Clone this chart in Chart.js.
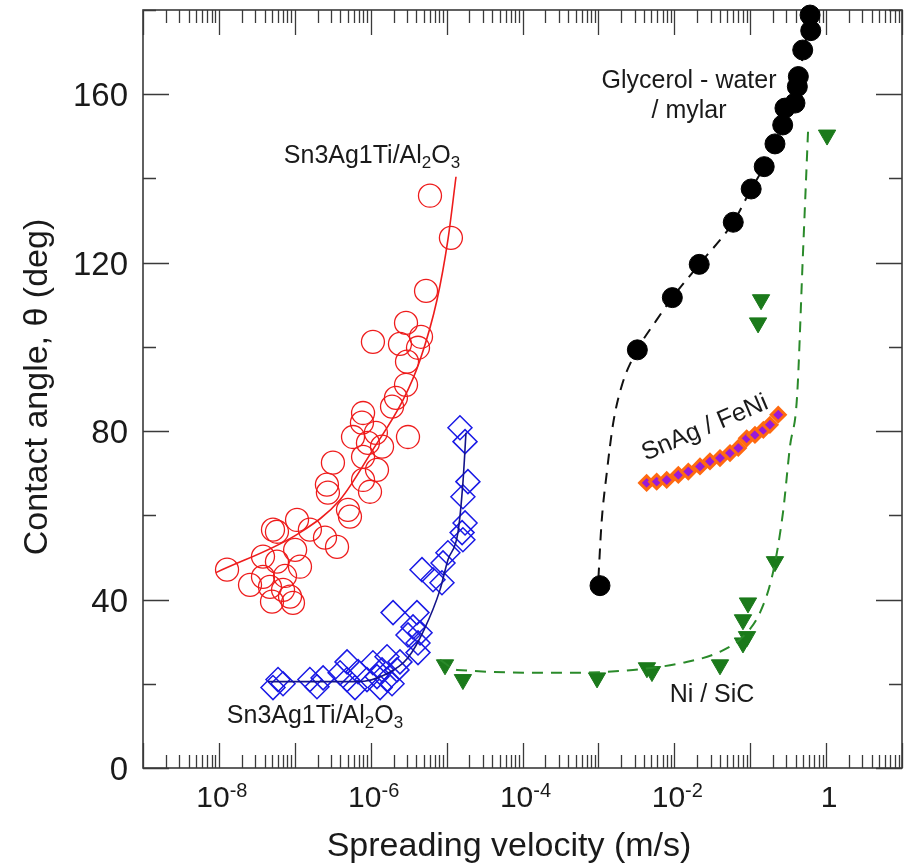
<!DOCTYPE html>
<html>
<head>
<meta charset="utf-8">
<script src="https://cdn.jsdelivr.net/npm/chart.js@4.4.1/dist/chart.umd.min.js"></script>
<style>
  body { margin: 0; background: #fff; }
  canvas { display: block; }
</style>
</head>
<body>
<canvas id="angulo-contato" width="907" height="864"></canvas>
<script>
// Sn3Ag1Ti/Al2O3 (red open circles)
const redX = [6.04e-6, 1.14e-5, 5.36e-6, 2.92e-6, 1.07e-6, 2.43e-6, 4.60e-6, 4.20e-6, 3.01e-6, 2.92e-6,
    2.15e-6, 1.91e-6, 7.67e-7, 3.10e-6, 5.85e-7, 1.17e-6, 9.20e-7, 1.41e-6, 7.93e-7, 1.21e-6,
    3.18e-7, 2.65e-7, 2.73e-7, 7.93e-7, 9.79e-7, 5.02e-7, 5.33e-7, 5.16e-8, 1.07e-7, 1.58e-7,
    2.50e-7, 3.60e-7, 1.01e-7, 3.81e-8, 5.82e-8, 1.17e-7, 1.28e-8, 2.57e-8, 3.81e-8, 4.71e-8,
    7.00e-8, 8.65e-8, 5.01e-8, 9.46e-8, 7.43e-8, 5.82e-8, 7.93e-7];
const redY = [135.9, 125.9, 113.3, 105.7, 101.2, 100.7, 102.4, 99.8, 96.5, 91.0,
    87.9, 85.8, 82.0, 78.6, 78.6, 79.6, 77.2, 76.3, 73.9, 70.8,
    72.5, 67.3, 65.4, 68.4, 65.6, 61.3, 59.7, 56.6, 58.9, 56.6,
    54.7, 52.5, 51.8, 50.2, 49.0, 47.8, 47.1, 43.5, 45.4, 43.0,
    42.3, 40.7, 39.5, 39.2, 45.6, 56.1, 84.3];
const redFitX = [9.16e-9, 1.17e-7, 3.95e-7, 1.07e-6, 2.67e-6, 4.47e-6, 7.48e-6, 1.04e-5, 1.33e-5];
const redFitY = [46.4, 55.9, 63.7, 75.6, 87.4, 96.9, 111.2, 125.4, 140.4];

// Sn3Ag1Ti/Al2O3 (blue open diamonds)
const blueX = [1.50e-5, 1.75e-5, 1.91e-5, 1.64e-5, 1.75e-5, 1.60e-5, 1.64e-5, 1.04e-5, 8.97e-6, 4.74e-6,
    6.62e-6, 8.69e-6, 1.97e-6, 4.07e-6, 3.61e-6, 4.47e-6, 3.10e-6, 4.20e-6, 4.20e-6, 2.43e-6,
    1.64e-6, 2.22e-6, 1.07e-6, 1.41e-6, 1.21e-6, 8.93e-7, 1.64e-6, 1.33e-6, 1.91e-6, 4.88e-7,
    3.95e-7, 4.88e-7, 6.81e-7, 2.36e-7, 1.58e-7, 1.96e-7, 6.01e-8, 5.16e-8, 7.00e-8, 6.21e-7];
const blueY = [80.8, 77.5, 68.0, 64.4, 58.2, 55.9, 54.2, 51.1, 48.7, 47.1,
    44.7, 44.0, 36.9, 36.9, 33.5, 32.1, 31.6, 29.7, 27.4, 25.2,
    26.4, 23.3, 25.0, 23.3, 21.7, 21.0, 21.0, 19.1, 20.0, 25.2,
    22.6, 21.0, 22.9, 21.4, 21.0, 19.3, 21.0, 19.1, 20.0, 19.1];
const blueFitX = [4.44e-8, 6.61e-7, 1.64e-6, 3.10e-6, 5.04e-6, 8.18e-6, 1.04e-5, 1.41e-5, 1.64e-5, 1.80e-5];
const blueFitY = [20.5, 20.5, 22.4, 26.2, 32.8, 42.3, 49.4, 55.9, 67.7, 79.6];

// Glycerol - water / mylar
const glyX = [0.614, 0.627, 0.492, 0.431, 0.418, 0.389, 0.287, 0.268, 0.212, 0.153,
    0.103, 0.0598, 0.0213, 0.00942, 0.00326, 0.00105];
const glyY = [178.8, 175.1, 170.5, 164.2, 161.8, 157.9, 156.7, 152.7, 148.2, 142.8,
    137.5, 129.6, 119.6, 111.7, 99.3, 43.3];
const glyFitX = [1.0e-3, 1.10e-3, 1.29e-3, 1.57e-3, 2.05e-3, 3.26e-3, 5.86e-3, 9.42e-3, 0.0213,
    0.0598, 0.103, 0.153, 0.212, 0.268, 0.366, 0.431, 0.497, 0.614];
const glyFitY = [45, 58.2, 70.1, 82.0, 91.0, 99.3, 106.4, 111.7, 119.6,
    129.6, 137.5, 142.8, 148.2, 152.7, 159.4, 164.2, 169.3, 178.8];

// Ni / SiC
const niX = [9.53e-6, 1.64e-5, 9.60e-4, 4.36e-3, 5.08e-3, 0.0400, 0.0803, 0.0908, 0.0803, 0.0935,
    0.212, 1.03, 0.139, 0.127];
const niY = [24.5, 21.0, 21.4, 23.8, 22.9, 24.5, 29.7, 31.2, 35.2, 39.2,
    49.0, 150.3, 111.2, 105.7];
const niFitX = [8.18e-6, 1.37e-5, 3.85e-4, 2.86e-3, 0.0130, 0.0400, 0.0803, 0.1346, 0.1995, 0.270,
    0.334, 0.414, 0.492, 0.578];
const niFitY = [25.7, 23.3, 22.6, 23.3, 25.0, 27.6, 31.2, 36.9, 46.4, 60.6,
    76.3, 88.1, 120.7, 151.1];

// SnAg / FeNi
const snagX = [4.32e-3, 5.86e-3, 7.94e-3, 0.0113, 0.0153, 0.0218, 0.0295, 0.0400, 0.0542, 0.0697,
    0.0899, 0.1156, 0.149, 0.182, 0.234];
const snagY = [67.7, 68.0, 68.4, 69.6, 70.4, 71.6, 72.8, 73.6, 74.8, 76.0,
    78.3, 79.1, 80.3, 81.5, 83.9];

// eixos
const yTickLabels = [0, 40, 80, 120, 160];
const xTickExps = [-8, -6, -4, -2, 0];

const FONTE = '"Liberation Sans", Arial, sans-serif';
const TEXTO = '#1a1a1a';

function pts(xs, ys) {
    return xs.map((v, i) => ({x: v, y: ys[i]}));
}

// desenha texto com sub/sobrescrito
function richText(ctx, parts, x, y, size, align) {
    const widths = parts.map(p => {
        ctx.font = (p[1] === 'n' ? size : Math.round(size * 0.66)) + 'px ' + FONTE;
        return ctx.measureText(p[0]).width;
    });
    const total = widths.reduce((a, b) => a + b, 0);
    let cx = align === 'center' ? x - total / 2 : (align === 'right' ? x - total : x);
    ctx.textAlign = 'left';
    ctx.textBaseline = 'alphabetic';
    parts.forEach((p, i) => {
        ctx.font = (p[1] === 'n' ? size : Math.round(size * 0.66)) + 'px ' + FONTE;
        let dy = 0;
        if (p[1] === 'sub') dy = size * 0.2;
        if (p[1] === 'sup') dy = -size * 0.33;
        ctx.fillText(p[0], cx, y + dy);
        cx += widths[i];
    });
}

const molduraPlugin = {
    id: 'moldura',
    beforeDatasetsDraw(chart) {
        const ctx = chart.ctx;
        const a = chart.chartArea;
        const xs = chart.scales.x, ys = chart.scales.y;
        ctx.save();
        ctx.strokeStyle = '#3a3a3a';
        ctx.lineWidth = 1.3;
        ctx.beginPath();
        // x: decadas e menores
        for (let d = -9; d <= 1; d++) {
            const px = Math.round(xs.getPixelForValue(Math.pow(10, d))) + 0.5;
            ctx.moveTo(px, a.bottom); ctx.lineTo(px, a.bottom - 25);
            ctx.moveTo(px, a.top); ctx.lineTo(px, a.top + 25);
            if (d < 1) {
                for (let m = 2; m <= 9; m++) {
                    const pm = Math.round(xs.getPixelForValue(m * Math.pow(10, d))) + 0.5;
                    ctx.moveTo(pm, a.bottom); ctx.lineTo(pm, a.bottom - 13);
                    ctx.moveTo(pm, a.top); ctx.lineTo(pm, a.top + 13);
                }
            }
        }
        // y
        for (let v = 0; v <= 180; v += 20) {
            const py = Math.round(ys.getPixelForValue(v)) + 0.5;
            const len = v % 40 === 0 ? 26 : 13;
            ctx.moveTo(a.left, py); ctx.lineTo(a.left + len, py);
            ctx.moveTo(a.right, py); ctx.lineTo(a.right - len, py);
        }
        ctx.stroke();
        ctx.lineWidth = 1.6;
        ctx.strokeRect(a.left, a.top, a.right - a.left, a.bottom - a.top);
        ctx.restore();
    },
    afterDatasetsDraw(chart) {
        const ctx = chart.ctx;
        const a = chart.chartArea;
        const xs = chart.scales.x, ys = chart.scales.y;
        ctx.save();
        ctx.fillStyle = TEXTO;

        // rotulos y
        ctx.font = '33px ' + FONTE;
        ctx.textAlign = 'right';
        ctx.textBaseline = 'alphabetic';
        yTickLabels.forEach(v => {
            ctx.fillText(String(v), a.left - 15, ys.getPixelForValue(v) + 12);
        });

        // rotulos x (10^n)
        xTickExps.forEach(e => {
            const px = xs.getPixelForValue(Math.pow(10, e)) + 3;
            if (e === 0) {
                richText(ctx, [['1', 'n']], px, a.bottom + 39, 30, 'center');
            } else {
                richText(ctx, [['10', 'n'], [String(e), 'sup']], px, a.bottom + 39, 30, 'center');
            }
        });

        // titulos
        ctx.font = '34px ' + FONTE;
        ctx.textAlign = 'center';
        ctx.fillText('Spreading velocity (m/s)', 509, 856);
        ctx.save();
        ctx.translate(47, 387);
        ctx.rotate(-Math.PI / 2);
        ctx.fillText('Contact angle, \u03b8 (deg)', 0, 0);
        ctx.restore();

        // anotacoes
        const liga = [['Sn3Ag1Ti/Al', 'n'], ['2', 'sub'], ['O', 'n'], ['3', 'sub']];
        richText(ctx, liga, 372, 163, 25, 'center');
        richText(ctx, liga, 315, 723, 25, 'center');
        ctx.font = '25px ' + FONTE;
        ctx.textAlign = 'center';
        ctx.fillText('Glycerol - water', 689, 88);
        ctx.fillText('/ mylar', 689, 118);
        ctx.fillText('Ni / SiC', 712, 702);
        ctx.save();
        ctx.translate(705, 428);
        ctx.rotate(-23 * Math.PI / 180);
        ctx.textBaseline = 'middle';
        ctx.fillText('SnAg / FeNi', 0, 0);
        ctx.restore();

        ctx.restore();
    }
};

const ctx = document.getElementById('angulo-contato').getContext('2d');
const chartAngulo = new Chart(ctx, {
    type: 'scatter',
    data: {
        datasets: [{
            label: 'SnAg / FeNi',
            data: pts(snagX, snagY),
            pointStyle: 'rectRot',
            pointRadius: 7,
            backgroundColor: '#9a1ad6',
            borderColor: '#ff6a10',
            borderWidth: 3,
            order: -1
        }, {
            label: 'Sn3Ag1Ti fit red',
            data: pts(redFitX, redFitY),
            showLine: true,
            pointRadius: 0,
            borderColor: '#ee1c1c',
            borderWidth: 1.6,
            cubicInterpolationMode: 'monotone',
            order: 0
        }, {
            label: 'Sn3Ag1Ti fit blue',
            data: pts(blueFitX, blueFitY),
            showLine: true,
            pointRadius: 0,
            borderColor: '#14148a',
            borderWidth: 1.6,
            cubicInterpolationMode: 'monotone',
            order: 0
        }, {
            label: 'Glycerol fit',
            data: pts(glyFitX, glyFitY),
            showLine: true,
            pointRadius: 0,
            borderColor: '#111',
            borderWidth: 2,
            borderDash: [11, 8],
            cubicInterpolationMode: 'monotone',
            order: 2
        }, {
            label: 'Ni fit',
            data: pts(niFitX, niFitY),
            showLine: true,
            pointRadius: 0,
            borderColor: '#2a8a2a',
            borderWidth: 2,
            borderDash: [11, 8],
            cubicInterpolationMode: 'monotone',
            order: 0
        }, {
            label: 'Sn3Ag1Ti/Al2O3 red',
            data: pts(redX, redY),
            pointStyle: 'circle',
            pointRadius: 11.5,
            backgroundColor: 'rgba(0,0,0,0)',
            borderColor: '#ee1c1c',
            borderWidth: 1.3,
            order: 1
        }, {
            label: 'Sn3Ag1Ti/Al2O3 blue',
            data: pts(blueX, blueY),
            pointStyle: 'rectRot',
            pointRadius: 12,
            backgroundColor: 'rgba(0,0,0,0)',
            borderColor: '#1a1ae6',
            borderWidth: 1.5,
            order: 1
        }, {
            label: 'Glycerol - water / mylar',
            data: pts(glyX, glyY),
            pointStyle: 'circle',
            pointRadius: 10,
            backgroundColor: '#000',
            borderColor: '#000',
            borderWidth: 1,
            order: 1
        }, {
            label: 'Ni / SiC',
            data: pts(niX, niY),
            pointStyle: 'triangle',
            rotation: 180,
            pointRadius: 10,
            backgroundColor: '#1b7a1b',
            borderColor: '#1b7a1b',
            borderWidth: 1,
            order: 1
        }]
    },
    options: {
        responsive: false,
        animation: false,
        events: [],
        clip: false,
        layout: {
            autoPadding: false,
            padding: {left: 143, top: 10, right: 5, bottom: 96}
        },
        plugins: {
            legend: {display: false},
            tooltip: {enabled: false}
        },
        scales: {
            x: {
                type: 'logarithmic',
                min: 1e-9,
                max: 10,
                display: false
            },
            y: {
                type: 'linear',
                min: 0,
                max: 180,
                display: false
            }
        }
    },
    plugins: [molduraPlugin]
});
</script>
</body>
</html>
